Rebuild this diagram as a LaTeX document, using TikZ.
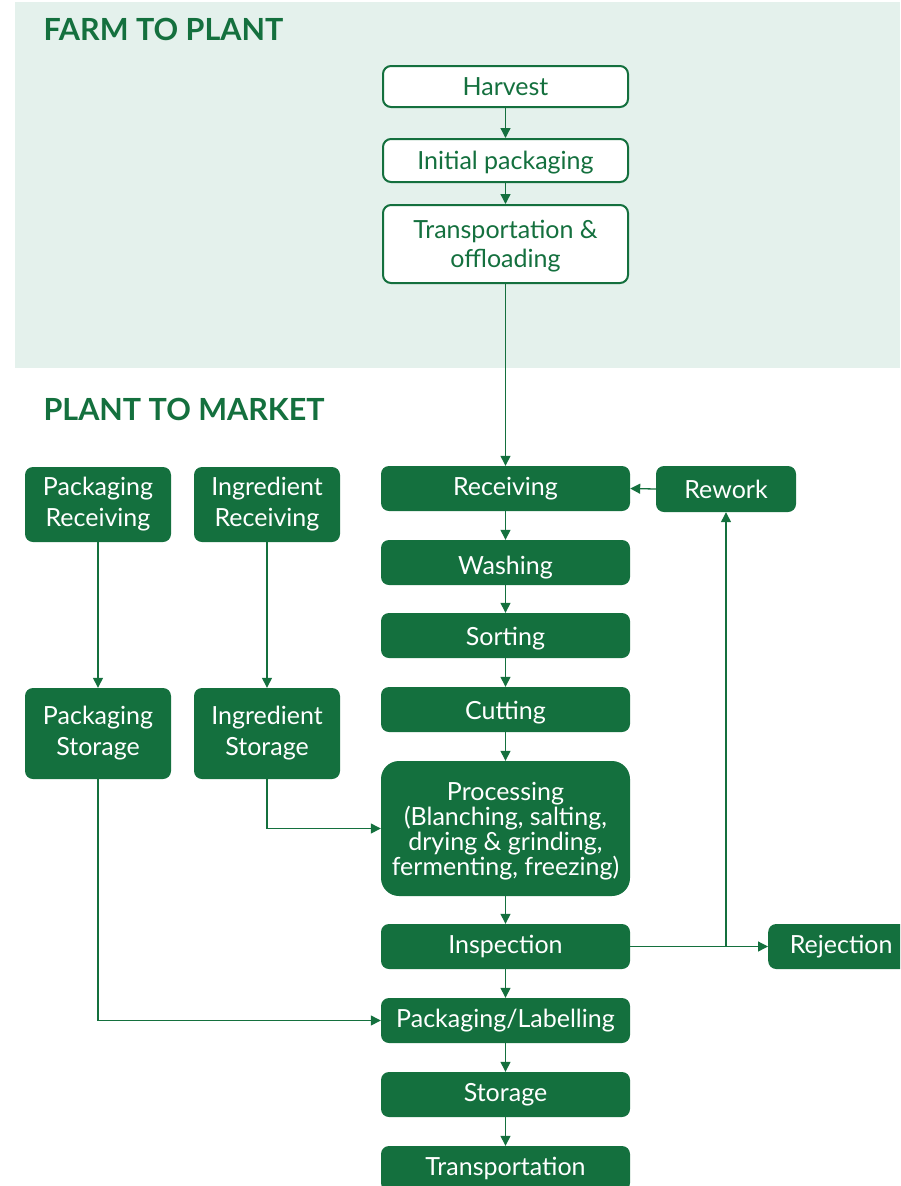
\documentclass[tikz,border=0pt]{standalone}
\usepackage{fontspec}
\setmainfont{Lato}
\usepackage{tikz}
\usetikzlibrary{
  positioning
  , calc
  % arrow tips
  , arrows.meta
}

\definecolor{fgreen}{RGB}{20,112,62}
\definecolor{lightbg}{RGB}{228,241,236}

\tikzset{
  outbox/.style={draw=fgreen, line width=2pt, fill=white, rounded corners=8pt,
    text=fgreen, minimum width=245pt, align=center, font=\fontsize{25}{29}\selectfont},
  solidbox/.style={fill=fgreen, text=white, rounded corners=8pt, minimum width=249pt,
    minimum height=45pt, align=center, font=\fontsize{25}{25}\selectfont},
  sidebox/.style={solidbox, minimum width=146pt, minimum height=75pt,
    font=\fontsize{25}{31}\selectfont},
  lowtext/.style={text height=#1, text depth=0pt},
  flow/.style={draw=fgreen, line width=1.3pt, -{Triangle[length=10pt,width=10pt]}},
  headline/.style={anchor=west, text=fgreen, font=\fontsize{30.5}{34}\selectfont\bfseries}
}

\begin{document}
\begin{tikzpicture}[x=1pt, y=-1pt]
      \clip (0,0) rectangle (900,1186);
      \fill[lightbg] (15,2) rectangle (900,368);

      \node[headline] (farm) at (40,29) {FARM TO PLANT};
      \node[headline] (market) at (40,409) {PLANT TO MARKET};

      % farm to plant
      \node[outbox, minimum height=41pt] (harvest) at (505.5,86.5) {Harvest};
      \node[outbox, minimum height=43pt, lowtext=17pt] (initpack) at (505.5,160.5) {Initial packaging};
      \node[outbox, minimum height=78pt, text depth=0pt] (transoff) at (505.5,244) {Transportation \&\\offloading};

      % plant to market, main line
      \node[solidbox] (receiving) at (505.5,488.5) {Receiving};
      \node[solidbox, lowtext=24pt] (washing) at (505.5,562.5) {Washing};
      \node[solidbox, lowtext=20pt] (sorting) at (505.5,635.5) {Sorting};
      \node[solidbox, lowtext=20pt] (cutting) at (505.5,709.5) {Cutting};
      \node[solidbox, minimum height=135pt, rounded corners=18pt, text depth=0pt] (processing) at (505.5,828.5)
        {Processing\\(Blanching, salting,\\drying \& grinding,\\fermenting, freezing)};
      \node[solidbox] (inspection) at (505.5,946.5) {Inspection};
      \node[solidbox] (packlabel) at (505.5,1020.5) {Packaging/Labelling};
      \node[solidbox] (storage) at (505.5,1094.5) {Storage};
      \node[solidbox] (transport) at (505.5,1168.5) {Transportation};

      \node[solidbox, minimum width=140pt, minimum height=46pt] (rework) at (726,489) {Rework};
      \node[solidbox, minimum width=146pt, anchor=west] (rejection) at (768,946.5) {Rejection};

      % side columns
      \node[sidebox] (packrec) at (98,504.5) {Packaging\\Receiving};
      \node[sidebox] (ingrec) at (267,504.5) {Ingredient\\Receiving};
      \node[sidebox, minimum height=91pt] (packsto) at (98,733.5) {Packaging\\Storage};
      \node[sidebox, minimum height=91pt] (ingsto) at (267,733.5) {Ingredient\\Storage};

      \draw[flow] (harvest) -- (initpack);
      \draw[flow] (initpack) -- (transoff);
      \draw[flow] (transoff) -- (receiving);
      \draw[flow] (receiving) -- (washing);
      \draw[flow] (washing) -- (sorting);
      \draw[flow] (sorting) -- (cutting);
      \draw[flow] (cutting) -- (processing);
      \draw[flow] (processing) -- (inspection);
      \draw[flow] (inspection) -- (packlabel);
      \draw[flow] (packlabel) -- (storage);
      \draw[flow] (storage) -- (transport);

      \draw[flow] (packrec) -- (packsto);
      \draw[flow] (ingrec) -- (ingsto);
      \draw[flow] (ingsto.south) |- (processing.west);
      \draw[flow] (packsto.south) |- (packlabel.west);

      \draw[flow] (inspection.east) -- (rejection.west);
      \draw[flow] (inspection.east -| rework.south) coordinate (split) -- (rework.south);
      \draw[flow] (rework.west) -- (receiving.east);
    \end{tikzpicture}
\end{document}
